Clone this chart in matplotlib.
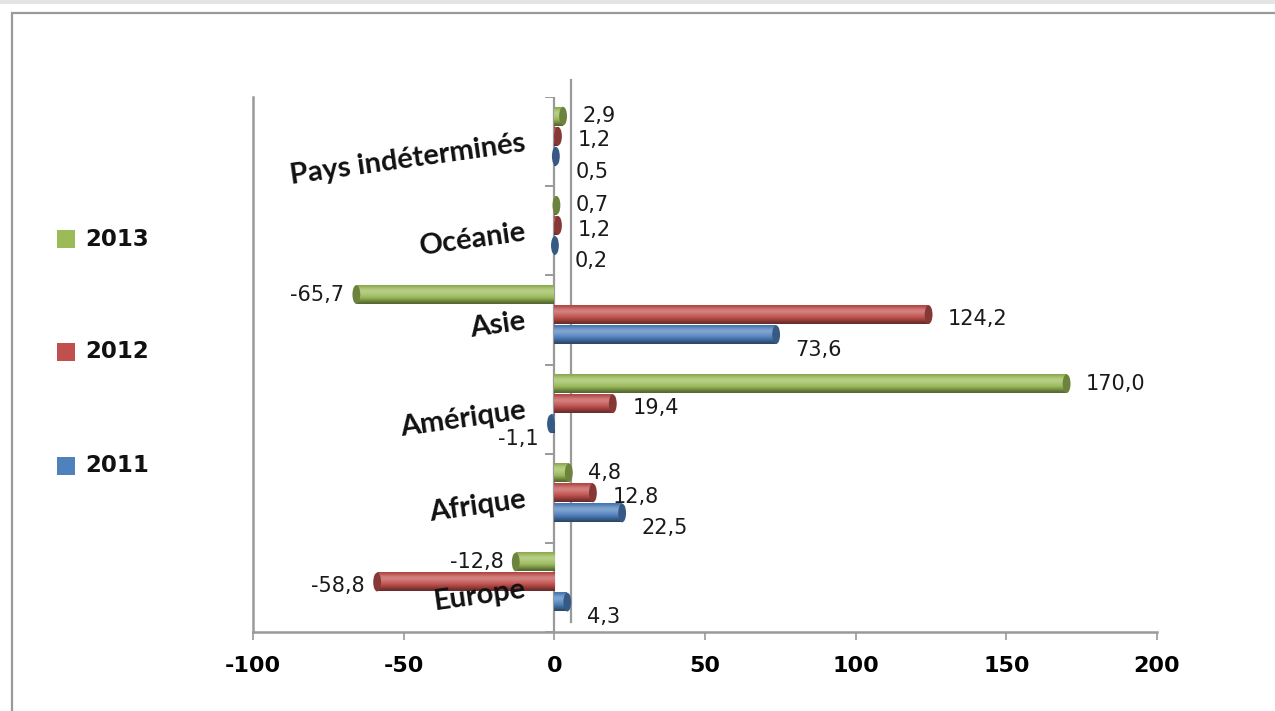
import numpy as np
import matplotlib
matplotlib.use("Agg")
import matplotlib.pyplot as plt
from matplotlib.patches import Rectangle, Ellipse
from matplotlib.colors import to_rgb

# données (de bas en haut)
categories = ["Europe", "Afrique", "Amérique", "Asie", "Océanie", "Pays indéterminés"]
v2011 = [4.3, 22.5, -1.1, 73.6, 0.2, 0.5]
v2012 = [-58.8, 12.8, 19.4, 124.2, 1.2, 1.2]
v2013 = [-12.8, 4.8, 170.0, -65.7, 0.7, 2.9]
years = ["2011", "2012", "2013"]
xticks = [-100, -50, 0, 50, 100, 150, 200]

colors = {"2011": "#4F81BD", "2012": "#C0504D", "2013": "#9BBB59"}
series = {"2011": v2011, "2012": v2012, "2013": v2013}
offsets = {"2011": -0.225, "2012": 0.0, "2013": 0.225}
label_dy = {"2011": -11, "2012": -3, "2013": 0}   # décalage vertical des étiquettes (points)

def fmt(v):
    return f"{v:.1f}".replace(".", ",")

def shade(c, f):
    r = np.array(to_rgb(c))
    if f >= 0:
        return r + (1 - r) * f
    return r * (1 + f)

fig = plt.figure(figsize=(12.75, 7.11), dpi=100)
# cadre extérieur
fig.patches.append(Rectangle((12 / 1275, -0.05), 1.1, 0.9817 + 0.05, transform=fig.transFigure,
                             fill=False, edgecolor="#9a9a9a", lw=1.6))
fig.patches.append(Rectangle((0, 0.994), 1, 0.006, transform=fig.transFigure,
                             facecolor="#e4e4e4", edgecolor="none"))

ax = fig.add_axes([253 / 1275, 1 - 632 / 711, (1157 - 253) / 1275, (632 - 97) / 711])
y = np.arange(len(categories))
h = 0.21
shift = 0.06

for yr in years:
    vals = series[yr]
    bars = ax.barh(y + offsets[yr] + shift, vals, height=h, color=colors[yr],
                   edgecolor="none", label=yr, zorder=3)
    # effet cylindre : dégradé vertical
    grad = np.array([shade(colors[yr], f) for f in
                     [-0.45, -0.3, -0.15, 0.0, 0.1, 0.2, 0.3, 0.25, 0.1, -0.1]])[:, None, :]
    for b in bars:
        x0, yb, w, hh = b.get_x(), b.get_y(), b.get_width(), b.get_height()
        ax.imshow(grad, extent=(x0, x0 + w, yb, yb + hh), aspect="auto",
                  origin="lower", interpolation="bicubic", zorder=3.5)
        end = x0 + w
        ax.add_patch(Ellipse((end, yb + hh / 2), 2.6, hh, facecolor=shade(colors[yr], -0.3),
                             edgecolor="none", zorder=3.6))
    for yy, v in zip(y, vals):
        if v >= 0:
            ax.annotate(fmt(v), (v, yy + offsets[yr] + shift), xytext=(14, label_dy[yr]),
                        textcoords="offset points", ha="left", va="center",
                        fontsize=15, color="#1a1a1a", zorder=5)
        else:
            ax.annotate(fmt(v), (v, yy + offsets[yr] + shift), xytext=(-9, label_dy[yr]),
                        textcoords="offset points", ha="right", va="center",
                        fontsize=15, color="#1a1a1a", zorder=5)

ax.set_xlim(-100, 200)
ax.set_ylim(-0.5, len(categories) - 0.5)
ax.set_xticks(xticks)
ax.set_xticklabels([str(t) for t in xticks], fontsize=16, fontweight="bold")
ax.set_yticks([])
ax.tick_params(axis="x", length=6, width=1.2, color="#9a9a9a", pad=11)
for s in ["top", "right"]:
    ax.spines[s].set_visible(False)
for s in ["left", "bottom"]:
    ax.spines[s].set_color("#9a9a9a")
    ax.spines[s].set_linewidth(1.8)

# axe zéro + graduations de catégories
ax.axvline(0, color="#9a9a9a", lw=1.6, zorder=2)
for k in range(len(categories) + 1):
    ax.plot([-2.7, 0], [k - 0.5, k - 0.5], color="#9a9a9a", lw=1.4, zorder=2)
# paroi arrière (effet 3D)
ax.plot([5.6, 5.6], [-0.39, len(categories) - 0.31], color="#9a9a9a", lw=1.6,
        zorder=2.5, clip_on=False)

# étiquettes de catégories inclinées
for yy, name in zip(y, categories):
    ax.text(-9.5, yy - 0.02, name, ha="right", va="center", rotation=8,
            rotation_mode="anchor", fontsize=21, fontweight="bold", family="Lato",
            color="#111111", zorder=6)

# légende
leg_y = {"2013": 239, "2012": 352, "2011": 466}
for yr in years:
    yf = 1 - leg_y[yr] / 711
    fig.patches.append(Rectangle((57 / 1275, yf - 9 / 711), 18 / 1275, 18 / 711,
                                 transform=fig.transFigure, facecolor=colors[yr],
                                 edgecolor="none"))
    fig.text(85 / 1275, yf, yr, ha="left", va="center", fontsize=16.5, fontweight="bold",
             color="#111111")

fig.savefig("out.png", dpi=100)
